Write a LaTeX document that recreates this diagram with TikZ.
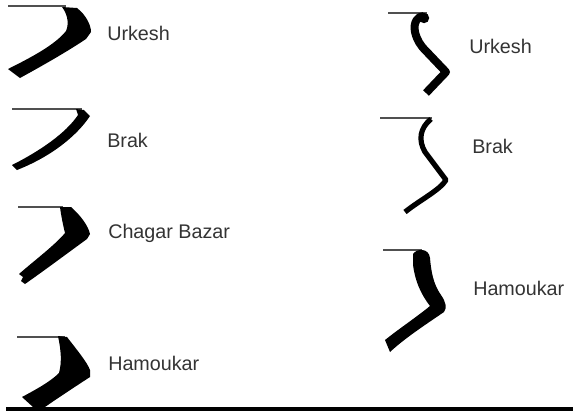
\documentclass[tikz,border=0pt]{standalone}
\usepackage{fontspec}
\setmainfont{Liberation Sans}
\definecolor{txt}{HTML}{333333}
\definecolor{rule}{HTML}{505050}
\begin{document}
\begin{tikzpicture}[x=0.75pt,y=-0.75pt,
  lbl/.style={anchor=base west,inner sep=0pt,text=txt,font=\fontsize{14.8}{16}\selectfont},
  hline/.style={draw=rule,line width=0.9pt},
  glyph/.style={fill=black,draw=none},
  gstroke/.style={draw=black,line join=round}]
\useasboundingbox (0,0) rectangle (573,411);
% ---------- left column ----------
% Urkesh
\draw[hline] (8,6) -- (66,6);
\path[glyph] (62,7) -- (77,8) .. controls (86,15) and (91,25) .. (91,32) -- (86,39)
  .. controls (65,53) and (40,67) .. (20,78) -- (8,69)
  .. controls (30,58) and (55,45) .. (66,31) .. controls (70,22) and (66,12) .. (62,7) -- cycle;
\node[lbl] (u1) at (107,40) {Urkesh};
% Brak
\draw[hline] (12,109) -- (82,109);
\path[glyph] (76,109) -- (84,110) -- (90,116) .. controls (76,137) and (50,157) .. (17,170)
  -- (12,165) .. controls (40,151) and (66,133) .. (78,115) -- cycle;
\node[lbl] (b1) at (107,147) {Brak};
% Chagar Bazar
\draw[hline] (18,207) -- (63,207);
\path[glyph] (60,207) -- (71,207) .. controls (80,215) and (88,225) .. (90,234) -- (87,239)
  .. controls (65,255) and (45,270) .. (25,284) -- (21,281) -- (23,277) -- (19,274)
  .. controls (35,260) and (55,245) .. (65,233) .. controls (63,225) and (61,215) .. (60,207) -- cycle;
\node[lbl] (c1) at (108,238) {Chagar Bazar};
% Hamoukar
\draw[hline] (17,337) -- (65,337);
\path[glyph] (58,336) -- (67,337) .. controls (77,350) and (87,362) .. (90,370) -- (90,377)
  .. controls (70,390) and (55,400) .. (45,407) -- (33,407) -- (22,397)
  .. controls (35,390) and (50,382) .. (59,373) .. controls (62,362) and (61,350) .. (58,336) -- cycle;
\node[lbl] (h1) at (108,370) {Hamoukar};
% ---------- right column ----------
% Urkesh
\draw[hline] (388,13) -- (427,13);
\fill[black] (424,18) circle (5.2);
\draw[gstroke,line width=6pt] (424,16) .. controls (418,16) and (413,22) .. (415,32)
  .. controls (417,40) and (420,45) .. (426,51) -- (446,72) -- (426,93);
\node[lbl] (u2) at (469,53) {Urkesh};
% Brak
\draw[hline] (380,118) -- (432,118);
\draw[gstroke,line width=3.9pt] (431,119) .. controls (420,128) and (418,140) .. (425,152)
  -- (446,180) .. controls (440,190) and (420,200) .. (405,212);
\node[lbl] (b2) at (472,153) {Brak};
% Hamoukar
\draw[hline] (383,250) -- (422,250);
\path[glyph] (413,254) .. controls (417,248) and (429,248) .. (430,258)
  .. controls (431,270) and (433,284) .. (441,295) .. controls (446,302) and (447,308) .. (444,312)
  .. controls (425,325) and (405,338) .. (390,352) -- (385,340)
  .. controls (400,328) and (418,316) .. (430,306) .. controls (420,293) and (415,280) .. (413,265) -- cycle;
\node[lbl] (h2) at (473,295) {Hamoukar};
% bottom rule
\fill[black] (6,407) rectangle (573,411);
\end{tikzpicture}
\end{document}
